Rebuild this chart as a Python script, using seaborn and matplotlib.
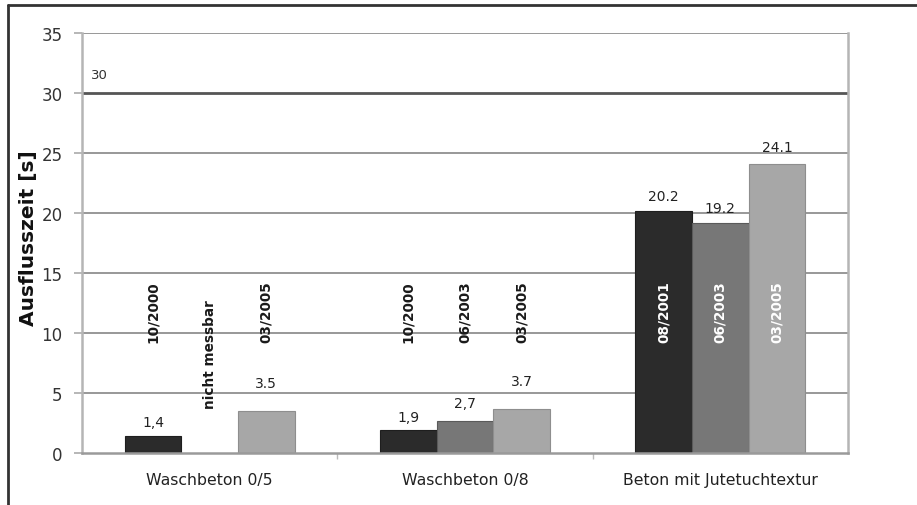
import numpy as np
import pandas as pd
import matplotlib
matplotlib.use("Agg")
import matplotlib.pyplot as plt
from matplotlib.lines import Line2D
from matplotlib.ticker import FixedLocator
import seaborn as sns

# ---- data -------------------------------------------------------------
categories = ["Waschbeton 0/5", "Waschbeton 0/8", "Beton mit Jutetuchtextur"]
slots = ["first", "second", "third"]
values = [
    [1.4, np.nan, 3.5],
    [1.9, 2.7, 3.7],
    [20.2, 19.2, 24.1],
]
decimal_marks = [
    [",", None, "."],
    [",", ",", "."],
    [".", ".", "."],
]
dates = [
    ["10/2000", "nicht messbar", "03/2005"],
    ["10/2000", "06/2003", "03/2005"],
    ["08/2001", "06/2003", "03/2005"],
]
limit_value = 30
y_ticks = [0, 5, 10, 15, 20, 25, 30, 35]
y_label = "Ausflusszeit [s]"

# ---- styling ----------------------------------------------------------
bar_colors = ["#2b2b2b", "#777777", "#a7a7a7"]
edge_colors = ["#1e1e1e", "#5a5a5a", "#8e8e8e"]
label_lift_px = [
    [14, 0, 28],
    [13, 18, 28],
    [15, 15, 17],
]

sns.set_theme(style="white")
plt.rcParams["font.family"] = ["DejaVu Sans"]

rows = []
for ci, cat in enumerate(categories):
    for si, slot in enumerate(slots):
        rows.append({"Kategorie": cat, "Messung": slot, "Zeit": values[ci][si]})
df = pd.DataFrame(rows)

fig = plt.figure(figsize=(9.17, 5.06), dpi=100)
fig.patch.set_facecolor("white")
ax = fig.add_axes([82 / 917, 1 - 454 / 506, (848 - 82) / 917, (454 - 34) / 506])

group_width = 0.665
sns.barplot(
    data=df, x="Kategorie", y="Zeit", hue="Messung",
    order=categories, hue_order=slots, palette=bar_colors,
    width=group_width, dodge=True, legend=False, ax=ax,
    saturation=1.0, errorbar=None,
)
for si, cont in enumerate(ax.containers):
    for bar in cont:
        bar.set_edgecolor(edge_colors[si])
        bar.set_linewidth(0.8)
        bar.set_zorder(3)

ax.set_ylim(0, 35)
ax.set_xlim(-0.5, len(categories) - 0.5)
ax.yaxis.set_major_locator(FixedLocator(y_ticks))
ax.set_facecolor("white")

# horizontal grid; the limit line is emphasized
for yv in y_ticks[1:]:
    if yv == limit_value:
        ax.axhline(yv, color="#555555", lw=2.0, zorder=2)
    else:
        ax.axhline(yv, color="#909090", lw=1.3, zorder=1)
ax.text(0.012, limit_value + 1.5, str(limit_value), transform=ax.get_yaxis_transform(),
        fontsize=9.5, color="#333333", ha="left", va="center")

for side in ["left", "right", "bottom"]:
    ax.spines[side].set_visible(True)
    ax.spines[side].set_color("#b5b5b5")
    ax.spines[side].set_linewidth(1.8)
ax.spines["top"].set_visible(False)
ax.spines["bottom"].set_color("#9a9a9a")
ax.spines["bottom"].set_zorder(4)

ax.tick_params(axis="y", which="major", left=True, length=6, width=1.2,
               color="#aaaaaa", labelsize=12, labelcolor="#333333", pad=8)
ax.tick_params(axis="x", which="major", bottom=False, labelsize=11.3,
               labelcolor="#222222", pad=8)
ax.xaxis.set_minor_locator(FixedLocator([0.5, 1.5]))
ax.tick_params(axis="x", which="minor", bottom=True, length=4, width=1,
               color="#bbbbbb")
ax.set_xlabel("")
ax.set_ylabel(y_label, fontsize=14.5, fontweight="bold", color="#111111")
ax.yaxis.set_label_coords(-0.058, 0.514)

# value and date labels
n_slots = len(slots)
bar_w = group_width / n_slots
date_top = 14.4
missing_top = 12.8
for ci in range(len(categories)):
    for si in range(n_slots):
        x = ci + (si - (n_slots - 1) / 2) * bar_w
        v = values[ci][si]
        if np.isnan(v):
            top, inside = missing_top, False
        else:
            txt = f"{v:.1f}".replace(".", decimal_marks[ci][si])
            ax.annotate(txt, xy=(x, v), xytext=(0, label_lift_px[ci][si] * 0.72),
                        textcoords="offset points", ha="center", va="center",
                        fontsize=10, color="#222222", zorder=5)
            top, inside = date_top, v > date_top
        ax.text(x, top, dates[ci][si], rotation=90, ha="center", va="top",
                fontsize=9.8, fontweight="bold",
                color="white" if inside else "#1a1a1a", zorder=6)

# outer frame lines (left and top)
fig.add_artist(Line2D([7.5 / 917, 7.5 / 917], [0, 1 - 6 / 506], transform=fig.transFigure,
                      color="#333333", lw=2))
fig.add_artist(Line2D([7.5 / 917, 1], [1 - 6 / 506, 1 - 6 / 506], transform=fig.transFigure,
                      color="#333333", lw=2))

fig.savefig("out.png", dpi=100, facecolor="white")
